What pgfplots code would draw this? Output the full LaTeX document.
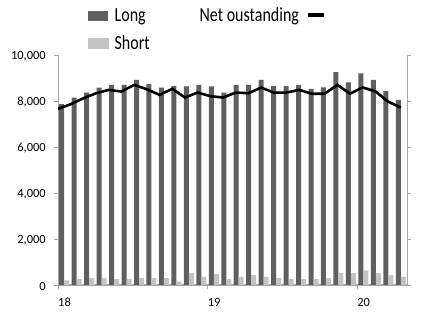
\documentclass[border=0pt]{standalone}
\usepackage{fontspec}
\setmainfont{Carlito}
\usepackage{graphicx}
\usepackage{pgfplots}
\pgfplotsset{compat=1.18}
\usepackage{pgfplotstable}
\definecolor{longc}{HTML}{5F5F5F}
\definecolor{shortc}{HTML}{C3C3C3}
\definecolor{axc}{HTML}{A6A6A6}

\pgfplotstableread{
x long short
0.5 7860 200
1.5 8150 250
2.5 8366 300
3.5 8583 300
4.5 8700 250
5.5 8700 250
6.5 8918 300
7.5 8744 300
8.5 8583 300
9.5 8657 150
10.5 8640 520
11.5 8700 350
12.5 8640 470
13.5 8366 250
14.5 8700 350
15.5 8700 430
16.5 8918 350
17.5 8650 300
18.5 8650 250
19.5 8700 250
20.5 8530 250
21.5 8590 300
22.5 9250 520
23.5 8810 520
24.5 9200 640
25.5 8918 520
26.5 8424 430
27.5 8048 350
}\bars

\pgfplotstableread{
x net
0 7656
1.02 7860
2.04 8120
3.06 8338
4.07 8482
5.09 8410
6.11 8700
7.13 8510
8.15 8265
9.17 8526
10.19 8150
11.20 8366
12.22 8210
13.24 8150
14.26 8366
15.28 8338
16.30 8583
17.31 8366
18.33 8366
19.35 8482
20.37 8315
21.39 8315
22.41 8700
23.43 8315
24.44 8590
25.46 8420
26.48 7975
27.5 7714
}\netline

\begin{document}
\begin{tikzpicture}[x=1pt,y=1pt]
\useasboundingbox (0,0) rectangle (421,315);
\begin{axis}[
  at={(58pt,30pt)}, anchor=south west,
  scale only axis, width=349pt, height=230pt,
  xmin=0, xmax=28, ymin=0, ymax=10000,
  axis x line*=bottom, axis y line*=left,
  x axis line style={axc, line width=1.6pt},
  y axis line style={axc, line width=0.8pt},
  xtick={0,12,24}, xticklabels={18,19,20},
  ytick={0,2000,4000,6000,8000,10000},
  scaled y ticks=false,
  tick align=outside, major tick length=4pt,
  tick style={axc, line width=0.8pt},
  /pgf/number format/assume math mode=true,
  /pgf/number format/1000 sep={,},
  tick label style={font=\fontsize{12.5}{14}\selectfont},
  yticklabel style={anchor=east, inner sep=0pt, xshift=-8pt, yshift=-1.5pt},
  xticklabel style={anchor=north west, inner sep=0pt, yshift=-9pt, xshift=0pt},
  legend columns=2,
  legend style={draw=none, fill=none, at={(0.086,1.205)}, anchor=north west,
    inner sep=0pt, row sep=12pt, font=\fontsize{16}{18}\selectfont,
    nodes={inner sep=0pt},
    /tikz/every odd column/.append style={column sep=6pt}},
  legend cell align=left,
]
\addlegendimage{legend image code/.code={\fill[longc] (0pt,-4.5pt) rectangle (19pt,4.5pt);}}
\addlegendentry{\makebox[79pt][l]{\scalebox{1}[1.25]{Long}}}
\addlegendimage{empty legend}
\addlegendentry{\scalebox{1}[1.25]{Net oustanding}\hspace{9pt}\rule[4.5pt]{16pt}{4pt}}
\addlegendimage{legend image code/.code={\fill[shortc] (0pt,-5pt) rectangle (20pt,5pt);}}
\addlegendentry{\scalebox{1}[1.25]{Short}}

\addplot[ybar, bar width=0.4, bar shift=-0.2, fill=longc, draw=none, forget plot]
  table[x=x, y=long]{\bars};
\addplot[ybar, bar width=0.4, bar shift=0.2, fill=shortc, draw=none, forget plot]
  table[x=x, y=short]{\bars};
\addplot[black, line width=2.6pt, forget plot] table[x=x, y=net]{\netline};
\end{axis}
\begin{axis}[
  at={(58pt,30pt)}, anchor=south west,
  scale only axis, width=349pt, height=230pt,
  xmin=0, xmax=28, ymin=0, ymax=10000,
  axis x line=none, axis y line*=right,
  y axis line style={axc, line width=0.8pt},
  ytick={0,2000,4000,6000,8000,10000}, yticklabels={},
  scaled y ticks=false,
  tick align=outside, major tick length=4pt,
  tick style={axc, line width=0.8pt},
]
\end{axis}
\end{tikzpicture}
\end{document}
